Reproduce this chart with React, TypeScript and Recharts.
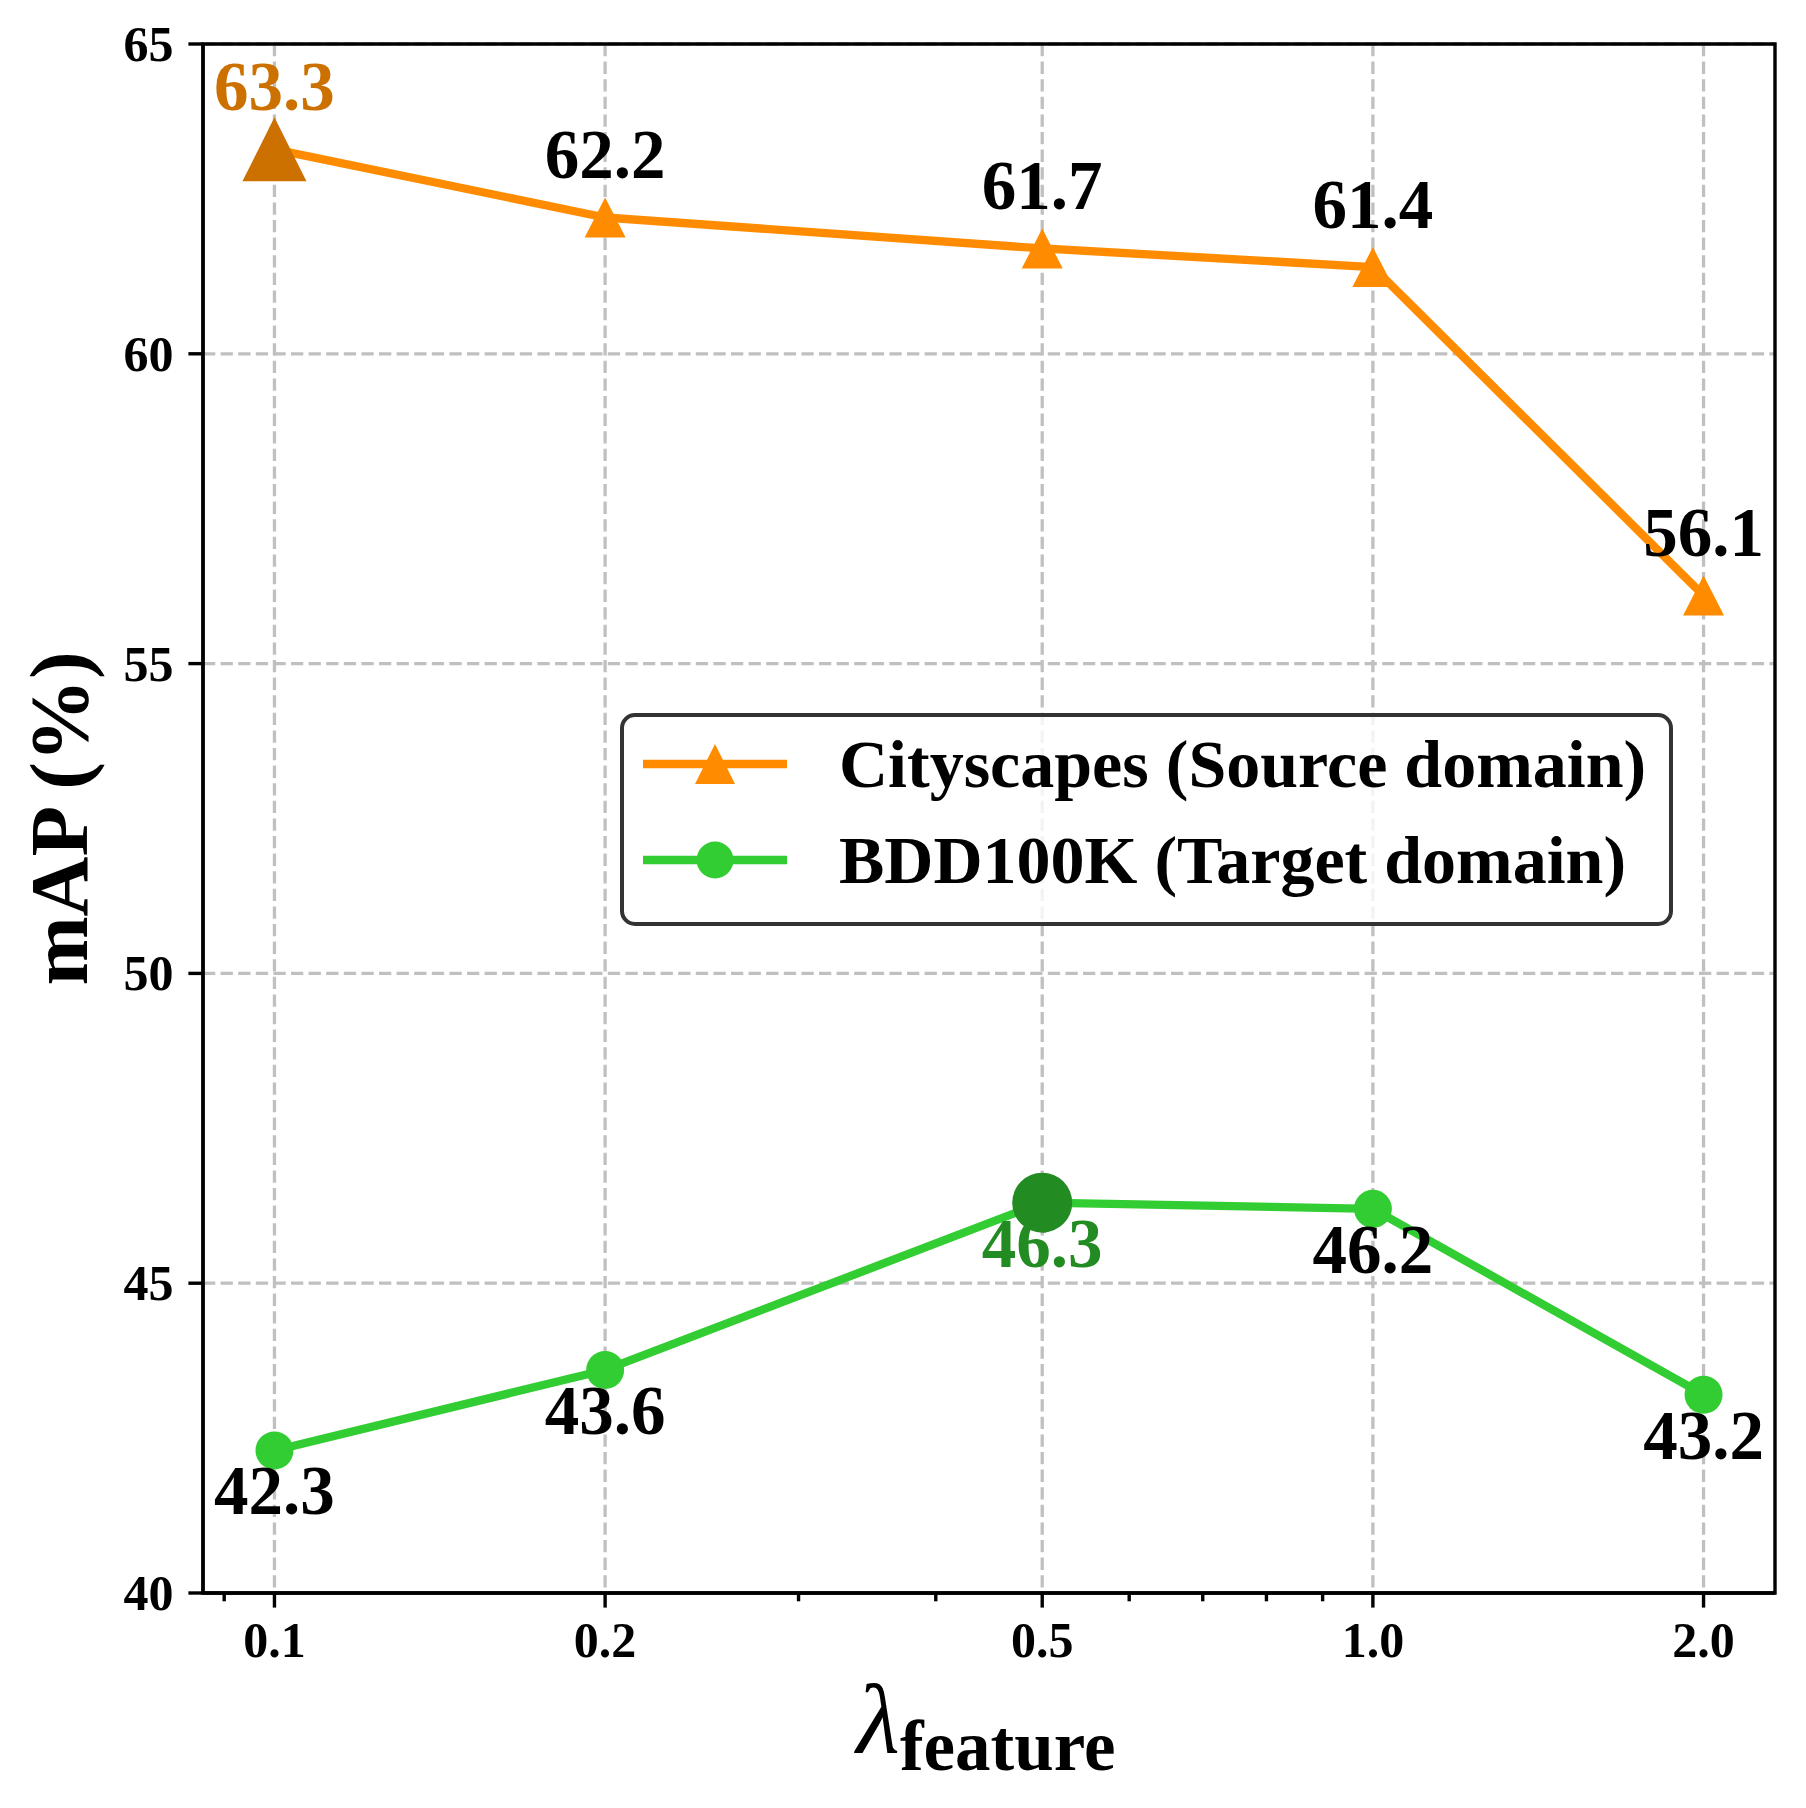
import React from 'react';
import {
  LineChart,
  Line,
  XAxis,
  YAxis,
  CartesianGrid,
  LabelList,
  Legend,
  ReferenceArea,
} from 'recharts';

// ---------------- data ----------------
const LAMBDAS = [0.1, 0.2, 0.5, 1.0, 2.0];
const LAMBDA_LABELS = ['0.1', '0.2', '0.5', '1.0', '2.0'];
const X_MINOR_TICKS = [0.09, 0.3, 0.4, 0.6, 0.7, 0.8, 0.9];
const CITYSCAPES = [63.3, 62.2, 61.7, 61.4, 56.1];
const BDD100K = [42.3, 43.6, 46.3, 46.2, 43.2];
const Y_TICKS = [40, 45, 50, 55, 60, 65];
const Y_DOMAIN = [40, 65];
const SERIES_NAMES = ['Cityscapes (Source domain)', 'BDD100K (Target domain)'];
const X_LABEL_MAIN = 'λ';
const X_LABEL_SUB = 'feature';
const Y_LABEL = 'mAP (%)';

// ---------------- styling ----------------
const W = 1806;
const H = 1808;
const FONT = "'Liberation Serif', 'Times New Roman', serif";
const ORANGE = '#FF8C00';
const ORANGE_BEST = '#CC7000';
const GREEN = '#32CD32';
const GREEN_BEST = '#228B22';
const GRID = '#C0C0C0';
const SPINE = 3.4;

// matplotlib-style 5% margin on the log x axis
const logMin = Math.log10(LAMBDAS[0]);
const logMax = Math.log10(LAMBDAS[LAMBDAS.length - 1]);
const pad = (logMax - logMin) * 0.05;
const X_DOMAIN = [Math.pow(10, logMin - pad), Math.pow(10, logMax + pad)];

const CITY_BEST = CITYSCAPES.indexOf(Math.max(...CITYSCAPES));
const BDD_BEST = BDD100K.indexOf(Math.max(...BDD100K));

const data = LAMBDAS.map((lam, i) => ({ lam, city: CITYSCAPES[i], bdd: BDD100K[i] }));

const trianglePath = (cx: number, cy: number, w: number, h: number) =>
  `M${cx},${cy - h / 2} L${cx + w / 2},${cy + h / 2} L${cx - w / 2},${cy + h / 2} Z`;

const TriangleDot = (props: any) => {
  const { cx, cy, index } = props;
  if (cx == null || cy == null) return <g key={`t${index}`} />;
  const best = index === CITY_BEST;
  const w = best ? 64 : 41;
  const h = best ? 64 : 40;
  return <path key={`t${index}`} d={trianglePath(cx, cy, w, h)} fill={best ? ORANGE_BEST : ORANGE} />;
};

const CircleDot = (props: any) => {
  const { cx, cy, index } = props;
  if (cx == null || cy == null) return <g key={`c${index}`} />;
  const best = index === BDD_BEST;
  return <circle key={`c${index}`} cx={cx} cy={cy} r={best ? 30 : 19} fill={best ? GREEN_BEST : GREEN} />;
};

const makeLabel = (values: number[], best: number, above: boolean, bestColor: string) => (props: any) => {
  const x = props.x ?? props.viewBox?.x;
  const y = props.y ?? props.viewBox?.y;
  const index = props.index;
  if (x == null || y == null) return null;
  const v = props.value != null ? Number(props.value) : values[index];
  const isBest = index === best;
  return (
    <text
      x={x}
      y={above ? y - 39 : y + 64}
      textAnchor="middle"
      fontFamily={FONT}
      fontWeight="bold"
      fontSize={69}
      fill={isBest ? bestColor : '#000'}
    >
      {v.toFixed(1)}
    </text>
  );
};

const XTick = (props: any) => {
  const { x, y, payload } = props;
  const v = payload?.value;
  const mi = LAMBDAS.findIndex((l) => Math.abs(l - v) < 1e-9);
  if (mi < 0) {
    return <line x1={x} y1={y} x2={x} y2={y + 8.3} stroke="#000" strokeWidth={SPINE} />;
  }
  return (
    <g>
      <line x1={x} y1={y} x2={x} y2={y + 14.6} stroke="#000" strokeWidth={SPINE} />
      <text x={x} y={y + 64} textAnchor="middle" fontFamily={FONT} fontWeight="bold" fontSize={50} fill="#000">
        {LAMBDA_LABELS[mi]}
      </text>
    </g>
  );
};

const YTick = (props: any) => {
  const { x, y, payload } = props;
  return (
    <g>
      <line x1={x - 14.6} y1={y} x2={x} y2={y} stroke="#000" strokeWidth={SPINE} />
      <text x={x - 29.5} y={y + 17} textAnchor="end" fontFamily={FONT} fontWeight="bold" fontSize={50} fill="#000">
        {payload?.value}
      </text>
    </g>
  );
};

const YLabel = (props: any) => {
  const vb = props.viewBox || { x: 53, y: 44, width: 150, height: 1549 };
  const x = vb.x + vb.width - 116;
  const y = vb.y + vb.height / 2;
  return (
    <text
      x={x}
      y={y}
      transform={`rotate(-90 ${x} ${y})`}
      textAnchor="middle"
      fontFamily={FONT}
      fontWeight="bold"
      fontSize={83}
      fill="#000"
    >
      {Y_LABEL}
    </text>
  );
};

const XLabel = (props: any) => {
  const vb = props.viewBox || { x: 203, y: 1593, width: 1572, height: 150 };
  const cx = vb.x + vb.width / 2 - 3;
  return (
    <text x={cx} y={vb.y + 160} textAnchor="middle" fontFamily={FONT} fill="#000">
      <tspan fontStyle="italic" fontSize={100}>
        {X_LABEL_MAIN}
      </tspan>
      <tspan fontWeight="bold" fontSize={71} dy={17}>
        {X_LABEL_SUB}
      </tspan>
    </text>
  );
};

const LegendBox = () => (
  <svg width={1053} height={213} style={{ display: 'block', overflow: 'visible' }}>
    <rect x={2} y={2} width={1049} height={209} rx={13} ry={13} fill="#fff" fillOpacity={0.8} stroke="#333" strokeWidth={4} />
    <line x1={23} x2={167} y1={51} y2={51} stroke={ORANGE} strokeWidth={8.3} />
    <path d={trianglePath(95, 51, 40, 40)} fill={ORANGE} />
    <text x={219} y={74} fontFamily={FONT} fontWeight="bold" fontSize={68} fill="#000">
      {SERIES_NAMES[0]}
    </text>
    <line x1={23} x2={167} y1={147} y2={147} stroke={GREEN} strokeWidth={8.3} />
    <circle cx={95} cy={147} r={18.5} fill={GREEN} />
    <text x={219} y={170} fontFamily={FONT} fontWeight="bold" fontSize={68} fill="#000">
      {SERIES_NAMES[1]}
    </text>
  </svg>
);

export default function App() {
  return (
    <div style={{ position: 'absolute', left: 0, top: 0, width: W, height: H, background: '#fff' }}>
      <LineChart
        width={W}
        height={H}
        data={data}
        margin={{ top: 44, right: 31, bottom: 65, left: 53 }}
      >
        <CartesianGrid
          stroke={GRID}
          strokeWidth={3.3}
          strokeDasharray="12.3 5.3"
          verticalValues={LAMBDAS}
          horizontalValues={Y_TICKS}
        />
        <XAxis
          dataKey="lam"
          type="number"
          scale="log"
          domain={X_DOMAIN}
          allowDataOverflow
          ticks={[...X_MINOR_TICKS, ...LAMBDAS]}
          interval={0}
          height={150}
          tickSize={0}
          tickMargin={0}
          tickLine={false}
          tick={<XTick />}
          axisLine={{ stroke: '#000', strokeWidth: SPINE }}
          label={{ content: XLabel }}
        />
        <YAxis
          type="number"
          domain={Y_DOMAIN}
          allowDataOverflow
          ticks={Y_TICKS}
          interval={0}
          width={150}
          tickSize={0}
          tickMargin={0}
          tickLine={false}
          tick={<YTick />}
          axisLine={{ stroke: '#000', strokeWidth: SPINE }}
          label={{ content: YLabel }}
        />
        <Line
          dataKey="city"
          name={SERIES_NAMES[0]}
          type="linear"
          stroke={ORANGE}
          strokeWidth={8.3}
          strokeLinejoin="round"
          dot={TriangleDot}
          activeDot={false}
          isAnimationActive={false}
        >
          <LabelList dataKey="city" content={makeLabel(CITYSCAPES, CITY_BEST, true, ORANGE_BEST)} />
        </Line>
        <Line
          dataKey="bdd"
          name={SERIES_NAMES[1]}
          type="linear"
          stroke={GREEN}
          strokeWidth={8.3}
          strokeLinejoin="round"
          dot={CircleDot}
          activeDot={false}
          isAnimationActive={false}
        >
          <LabelList dataKey="bdd" content={makeLabel(BDD100K, BDD_BEST, false, GREEN_BEST)} />
        </Line>
        <ReferenceArea
          x1={X_DOMAIN[0]}
          x2={X_DOMAIN[1]}
          y1={Y_DOMAIN[0]}
          y2={Y_DOMAIN[1]}
          fill="none"
          fillOpacity={0}
          stroke="#000"
          strokeWidth={SPINE}
          ifOverflow="visible"
        />
        <Legend
          layout="vertical"
          align="center"
          verticalAlign="middle"
          content={() => <LegendBox />}
          wrapperStyle={{ position: 'absolute', left: 620, top: 713, width: 1053, height: 213, margin: 0, padding: 0, lineHeight: 0 }}
        />
      </LineChart>
    </div>
  );
}
